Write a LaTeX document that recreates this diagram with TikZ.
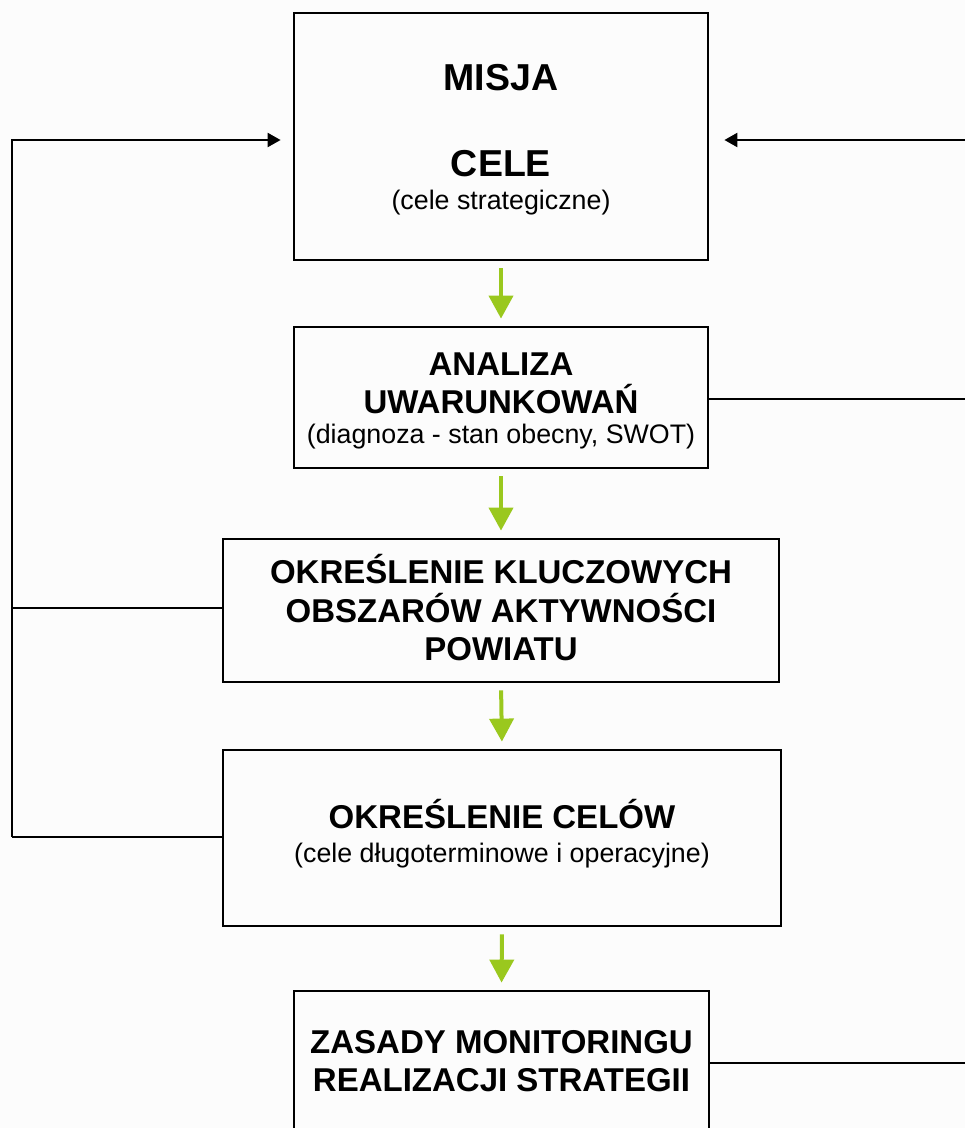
\documentclass[tikz,border=0pt]{standalone}
\usepackage{fontspec}
\setmainfont{Liberation Sans}
\usetikzlibrary{arrows.meta}
\definecolor{arrgreen}{RGB}{154,200,30}
\definecolor{bgc}{RGB}{252,252,252}
\begin{document}
\begin{tikzpicture}[x=1pt,y=-1pt,
  box/.style={draw=black, line width=2.8pt, inner sep=0pt},
  link/.style={draw=black, line width=2.2pt},
  blkarrow/.style={link, -{Triangle[length=13pt,width=14pt]}},
  garrow/.style={draw=arrgreen, line width=4pt, -{Triangle[length=23pt,width=24pt]}, shorten <=7pt, shorten >=7pt},
  bigtxt/.style={anchor=base, font=\bfseries\fontsize{37.5}{40}\selectfont},
  boldtxt/.style={anchor=base, font=\bfseries\fontsize{33}{36}\selectfont},
  subtxt/.style={anchor=base, font=\fontsize{26.8}{30}\selectfont}]
\useasboundingbox (0,0) rectangle (965,1128);
\fill[bgc] (0,0) rectangle (965,1128);
\clip (0,0) rectangle (965,1128);

% boxes
\node[box, minimum width=414pt, minimum height=247pt] (b1) at (501,136.5) {};
\node[box, minimum width=414pt, minimum height=141pt] (b2) at (501,397.5) {};
\node[box, minimum width=556pt, minimum height=143pt] (b3) at (501,610.5) {};
\node[box, minimum width=558pt, minimum height=176pt] (b4) at (502,838) {};
\node[box, minimum width=415pt, minimum height=159pt] (b5) at (501.5,1070.5) {};

% texts
\node[bigtxt] (t1a) at (501,90.5) {MISJA};
\node[bigtxt] (t1b) at (501,176.5) {CELE};
\node[subtxt] (t1c) at (501,209) {(cele strategiczne)};

\node[boldtxt] (t2a) at (501,375) {ANALIZA};
\node[boldtxt] (t2b) at (501,413) {UWARUNKOWAŃ};
\node[subtxt] (t2c) at (501,443) {(diagnoza - stan obecny, SWOT)};

\node[boldtxt] (t3a) at (501,583) {OKREŚLENIE KLUCZOWYCH};
\node[boldtxt] (t3b) at (501,622) {OBSZARÓW AKTYWNOŚCI};
\node[boldtxt] (t3c) at (501,660) {POWIATU};

\node[boldtxt] (t4a) at (502,828) {OKREŚLENIE CELÓW};
\node[subtxt] (t4b) at (502,862) {(cele długoterminowe i operacyjne)};

\node[boldtxt] (t5a) at (501.5,1053) {ZASADY MONITORINGU};
\node[boldtxt] (t5b) at (501.5,1091) {REALIZACJI STRATEGII};

% green flow arrows
\draw[garrow] (b1.south) -- (b2.north);
\draw[garrow] (b2.south) -- (b3.north);
\draw[garrow] (b3.south) -- (b4.north);
\draw[garrow] (b4.south) -- (b5.north);

% left feedback
\coordinate (L1) at (12,140);
\coordinate (L3) at (12,608);
\coordinate (L4) at (12,837);
\draw[blkarrow, shorten >=12pt] (L4) -- (L1) -- (b1.west |- L1);
\draw[link] (L3) -- (b3.west |- L3);
\draw[link] (L4) -- (b4.west |- L4);

% right feedback
\coordinate (R1) at (966,140);
\coordinate (R2) at (966,399);
\coordinate (R5) at (966,1063);
\draw[blkarrow, shorten >=15pt] (R1) -- (b1.east |- R1);
\draw[link] (b2.east |- R2) -- (R2);
\draw[link] (b5.east |- R5) -- (R5);
\end{tikzpicture}
\end{document}
